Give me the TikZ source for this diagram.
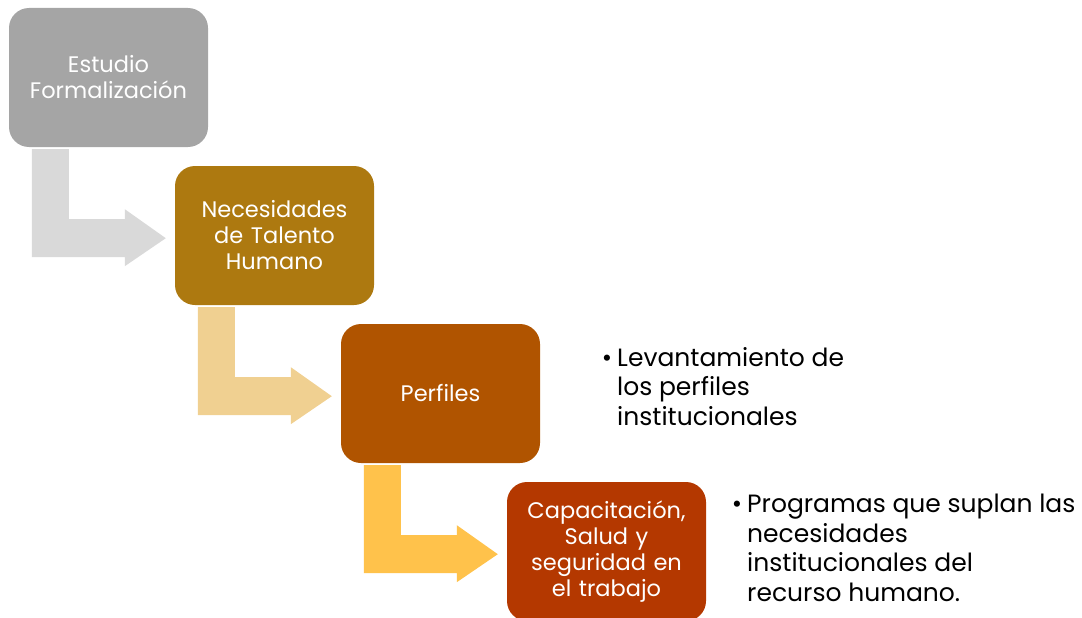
\documentclass[tikz,border=0pt]{standalone}
\usepackage{fontspec}
\setmainfont{Poppins}
\usetikzlibrary{calc}
\definecolor{cBoxA}{HTML}{A5A5A5}
\definecolor{cBoxB}{HTML}{AD7910}
\definecolor{cBoxC}{HTML}{B05400}
\definecolor{cBoxD}{HTML}{B43800}
\definecolor{cArrA}{HTML}{D9D9D9}
\definecolor{cArrB}{HTML}{F0D091}
\definecolor{cArrC}{HTML}{FFC24B}
\newcommand\flowarrow[2]{%
  \fill[#2] ($(#1.south west)+(23,2)$) -- ($(#1.south west)+(60,2)$)
    -- ($(#1.south west)+(60,72)$) -- ($(#1.south west)+(116,72)$)
    -- ($(#1.south west)+(116,62)$) -- ($(#1.south west)+(157,91)$)
    -- ($(#1.south west)+(116,119)$) -- ($(#1.south west)+(116,110)$)
    -- ($(#1.south west)+(23,110)$) -- cycle;}
\begin{document}
\begin{tikzpicture}[x=1pt,y=-1pt,
  stage/.style={rounded corners=20pt, minimum width=199pt, minimum height=139pt,
    text width=190pt, align=center, text=white, inner sep=0pt,
    font=\fontsize{22.5}{26}\selectfont},
  note/.style={anchor=west, align=left, inner sep=0pt, text=black,
    font=\fontsize{25}{29.5}\selectfont}]
\useasboundingbox (0,0) rectangle (1082,618);
\node[stage, fill=cBoxA] (b1) at (108.5,77.5) {Estudio\\Formalización};
\node[stage, fill=cBoxB] (b2) at (274.5,235.5) {Necesidades\\de Talento\\Humano};
\node[stage, fill=cBoxC] (b3) at (440.5,393.5) {Perfiles};
\node[stage, fill=cBoxD] (b4) at (606.5,551.5) {Capacitación,\\Salud y\\seguridad en\\el trabajo};
\flowarrow{b1}{cArrA}
\flowarrow{b2}{cArrB}
\flowarrow{b3}{cArrC}
\node[note] (t1) at (617,386.5) {\llap{\textbullet\hspace{5pt}}Levantamiento de\\los perfiles\\institucionales};
\node[note] (t2) at (747,548) {\llap{\textbullet\hspace{5pt}}Programas que suplan las\\necesidades\\institucionales del\\recurso humano.};
\end{tikzpicture}
\end{document}
